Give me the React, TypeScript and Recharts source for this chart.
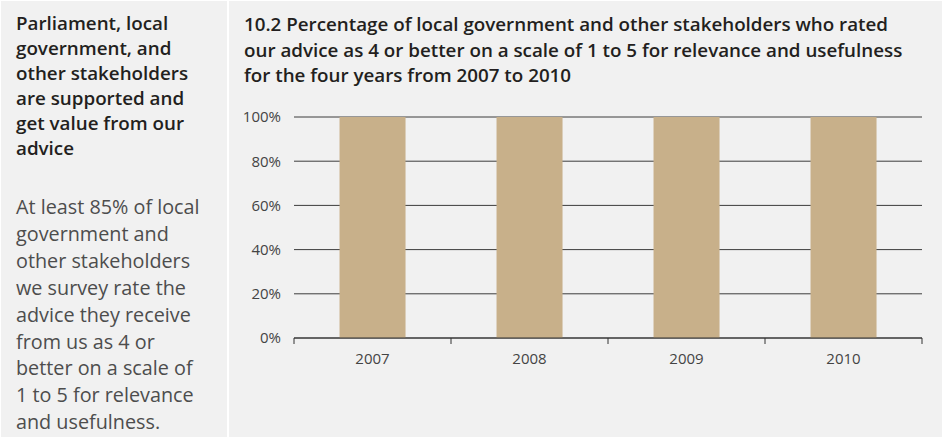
import { BarChart, Bar, XAxis, YAxis, CartesianGrid } from 'recharts'

const years = ['2007', '2008', '2009', '2010']
const rated = [100, 100, 100, 100]
const yTicks = [0, 20, 40, 60, 80, 100]

const headingLines = [
  'Parliament, local',
  'government, and',
  'other stakeholders',
  'are supported and',
  'get value from our',
  'advice',
]
const bodyLines = [
  'At least 85% of local',
  'government and',
  'other stakeholders',
  'we survey rate the',
  'advice they receive',
  'from us as 4 or',
  'better on a scale of',
  '1 to 5 for relevance',
  'and usefulness.',
]
const titleLines = [
  '10.2 Percentage of local government and other stakeholders who rated',
  'our advice as 4 or better on a scale of 1 to 5 for relevance and usefulness',
  'for the four years from 2007 to 2010',
]

const data = years.map((y, i) => ({ year: y, value: rated[i] }))

const font = '"Open Sans", sans-serif'
const bg = '#f1f1f1'

// labels sit at the band centre, tick marks go on the band edges
function EdgeTick(props: any) {
  const { x, y, payload, index, visibleTicksCount } = props
  const half = payload.offset || 0
  const axisY = y - 15
  return (
    <g>
      <line x1={x - half} x2={x - half} y1={axisY} y2={axisY + 6} stroke="#333" />
      {index === visibleTicksCount - 1 && (
        <line x1={x + half} x2={x + half} y1={axisY} y2={axisY + 6} stroke="#333" />
      )}
      <text x={x} y={y} dy="0.71em" textAnchor="middle" fill="#444" fontSize={15} fontFamily={font}>
        {payload.value}
      </text>
    </g>
  )
}

export default function App() {
  return (
    <div style={{ position: 'absolute', left: 0, top: 0, width: 942, height: 438, background: '#fff', fontFamily: font }}>
      <div style={{ position: 'absolute', left: 1, top: 1, width: 226, height: 436, background: bg }}>
        <div style={{ position: 'absolute', left: 15, top: 10, fontSize: 18.8, fontWeight: 600, lineHeight: '25px', color: '#231f20', whiteSpace: 'nowrap' }}>
          {headingLines.map(l => <div key={l}>{l}</div>)}
        </div>
        <div style={{ position: 'absolute', left: 15, top: 193, fontSize: 19.8, lineHeight: '26.9px', color: '#4d4d4d', whiteSpace: 'nowrap' }}>
          {bodyLines.map(l => <div key={l}>{l}</div>)}
        </div>
      </div>
      <div style={{ position: 'absolute', left: 229, top: 1, width: 713, height: 436, background: bg }}>
        <div style={{ position: 'absolute', left: 15, top: 11, fontSize: 18.8, fontWeight: 600, lineHeight: '25.5px', color: '#231f20', whiteSpace: 'nowrap' }}>
          {titleLines.map(l => <div key={l}>{l}</div>)}
        </div>
        <div style={{ position: 'absolute', left: 0, top: 99 }}>
          <BarChart width={713} height={300} data={data} margin={{ top: 17, right: 20, bottom: 32, left: 0 }} barCategoryGap="29%">
            <CartesianGrid vertical={false} stroke="#3c3c3c" />
            <YAxis
              width={65}
              domain={[0, 100]}
              ticks={yTicks}
              tickFormatter={v => `${v}%`}
              axisLine={false}
              tickLine={false}
              tickMargin={13}
              tickSize={0}
              tick={{ fill: '#444', fontSize: 15, fontFamily: font }}
            />
            <XAxis
              dataKey="year"
              height={30}
              axisLine={{ stroke: '#333' }}
              tickLine={false}
              tickSize={6}
              tickMargin={9}
              tick={<EdgeTick />}
            />
            <Bar dataKey="value" fill="#c8b08a" isAnimationActive={false} />
          </BarChart>
        </div>
      </div>
    </div>
  )
}
